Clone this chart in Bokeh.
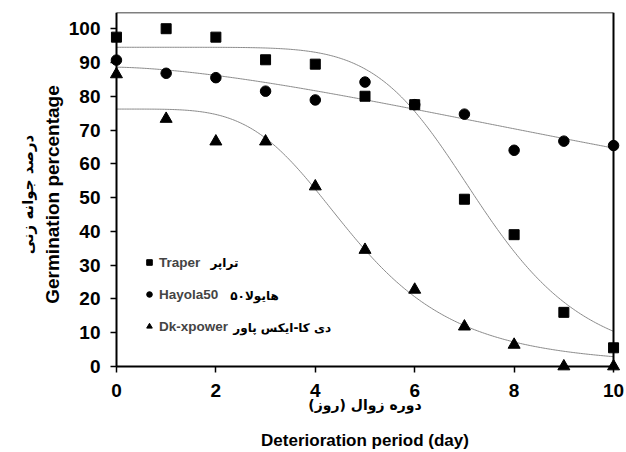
import numpy as np
from bokeh.plotting import figure
from bokeh.models import (Range1d, SingleIntervalTicker, FixedTicker, Legend, LegendItem,
                          Label, ColumnDataSource, LinearAxis)
from bokeh.embed import file_html
from bokeh.resources import INLINE

# ---- data ----
days = [0, 1, 2, 3, 4, 5, 6, 7, 8, 9, 10]
traper = [97.5, 100, 97.5, 90.8, 89.5, 80.0, 77.5, 49.5, 39.0, 16.0, 5.5]
hayola = [90.7, 86.8, 85.5, 81.5, 78.9, 84.2, 77.5, 74.7, 64.0, 66.7, 65.4]
dkxpower = [86.5, 73.3, 66.6, 66.6, 53.3, 34.5, 22.7, 11.8, 6.4, 0.0, 0.0]

# fitted log-logistic curves (top, x50, slope)
traper_fit = (94.5, 7.35, 6.8)
hayola_fit = (88.6, 18.6, 1.6)
dk_fit = (76.2, 4.79, 4.4)

x_min, x_max = 0, 10
y_min, y_max = 0, 104.8
x_ticks_interval = 2
y_ticks_interval = 10

names_en = ["Traper", "Hayola50", "Dk-xpower"]
names_fa = ["تراپر", "هایولا۵۰", "دی کا-ایکس پاور"]
xlabel_en = "Deterioration period (day)"
xlabel_fa = "دوره زوال (روز)"
ylabel_en = "Germination percentage"
ylabel_fa = "درصد جوانه زنی"

EN_FONT = "Liberation Sans"
FA_FONT = "DejaVu Sans"

# ranges padded slightly so edge markers are not clipped; axis lines are pinned at 0
p = figure(width=626, height=452, x_range=Range1d(-0.2, 10.2), y_range=Range1d(-3, y_max),
           output_backend="svg", toolbar_location=None,
           min_border_left=106, min_border_right=3, min_border_top=12, min_border_bottom=75)
p.grid.visible = False
p.background_fill_color = "white"
p.border_fill_color = "white"
p.outline_line_color = None

# --- axis lines and ticks, pinned at x=0 / y=0 (labels drawn by side axes) ---
xax = p.xaxis[0]
yax = p.yaxis[0]
xax.fixed_location = 0
yax.fixed_location = 0
xax.bounds = (x_min, x_max)
yax.bounds = (y_min, y_max)
for ax in (xax, yax):
    ax.axis_line_width = 2
    ax.axis_line_color = "black"
    ax.major_tick_line_width = 1.5
    ax.major_tick_line_color = "black"
    ax.major_tick_out = 6
    ax.major_tick_in = 0
    ax.minor_tick_line_color = None
    ax.major_label_text_alpha = 0
xax.ticker = SingleIntervalTicker(interval=x_ticks_interval, num_minor_ticks=0)
yax.ticker = SingleIntervalTicker(interval=y_ticks_interval, num_minor_ticks=0)


def side_axis(side, ticker, label, font, size, label_standoff, tick_standoff, bounds):
    ax = LinearAxis(ticker=ticker, bounds=bounds,
                    axis_line_color=None, major_tick_line_color=None,
                    minor_tick_line_color=None, major_tick_out=0, major_tick_in=0,
                    major_label_standoff=tick_standoff,
                    major_label_text_font=EN_FONT, major_label_text_font_style="bold",
                    major_label_text_font_size="19px", major_label_text_color="black",
                    axis_label=label, axis_label_text_font=font,
                    axis_label_text_font_style="bold", axis_label_text_font_size=size,
                    axis_label_standoff=label_standoff, axis_label_text_color="black")
    p.add_layout(ax, side)
    return ax


# tick labels + titles (stacked outward from the frame)
side_axis("left", SingleIntervalTicker(interval=y_ticks_interval, num_minor_ticks=0),
          ylabel_en, EN_FONT, "19px", 3, 6, (y_min, y_max))
side_axis("left", FixedTicker(ticks=[]), ylabel_fa, FA_FONT, "15px", 2, 0, (y_min, y_max))
side_axis("below", SingleIntervalTicker(interval=x_ticks_interval, num_minor_ticks=0),
          None, EN_FONT, "14px", 0, 7, (x_min, x_max))
side_axis("below", FixedTicker(ticks=[]), xlabel_fa, FA_FONT, "14px", -3, 0, (-0.2, 9.9))
side_axis("below", FixedTicker(ticks=[]), xlabel_en, EN_FONT, "17px", 15, 0, (-0.2, 9.9))

# frame border: top and right lines
top_ax = LinearAxis(fixed_location=y_max, bounds=(x_min, x_max), ticker=FixedTicker(ticks=[]),
                    axis_line_width=1.5, axis_line_color="black", major_tick_line_color=None,
                    minor_tick_line_color=None, major_label_text_alpha=0)
p.add_layout(top_ax, "above")
right_ax = LinearAxis(fixed_location=x_max, bounds=(y_min, y_max), ticker=FixedTicker(ticks=[]),
                      axis_line_width=2, axis_line_color="black", major_tick_line_color=None,
                      minor_tick_line_color=None, major_label_text_alpha=0)
p.add_layout(right_ax, "right")

# fitted curves
xs = np.linspace(x_min, x_max, 301)
def loglogistic(x, params):
    top, x50, slope = params
    return top / (1.0 + (x / x50) ** slope)

for params in (traper_fit, hayola_fit, dk_fit):
    p.line(xs, loglogistic(xs, params), line_color="#8a8a8a", line_width=1)

src = ColumnDataSource(dict(x=days, t=traper, h=hayola, d=dkxpower))
r_h = p.scatter("x", "h", source=src, marker="circle", size=10.5, fill_color="black", line_color="black")
r_d = p.scatter("x", "d", source=src, marker="triangle", size=12, fill_color="black", line_color="black")
r_t = p.scatter("x", "t", source=src, marker="square", size=10, fill_color="black", line_color="black")

legend = Legend(items=[LegendItem(label=names_en[0], renderers=[r_t]),
                       LegendItem(label=names_en[1], renderers=[r_h]),
                       LegendItem(label=names_en[2], renderers=[r_d])],
                location=(36, 40), orientation="vertical",
                border_line_alpha=0, background_fill_alpha=0,
                padding=0, margin=0, spacing=12,
                glyph_width=14, glyph_height=20, label_standoff=3,
                label_text_font=EN_FONT, label_text_font_style="bold",
                label_text_font_size="13.5px", label_height=20)
p.add_layout(legend, "center")

# Persian legend names
for name, (lx, ly) in zip(names_fa, [(1.89, 30.6), (2.29, 20.9), (2.35, 11.4)]):
    p.add_layout(Label(x=lx, y=ly, text=name, text_font=FA_FONT, text_font_style="bold",
                       text_font_size="12px", text_align="left", text_baseline="middle",
                       text_color="black"))

open("out.html", "w").write(file_html(p, INLINE))
